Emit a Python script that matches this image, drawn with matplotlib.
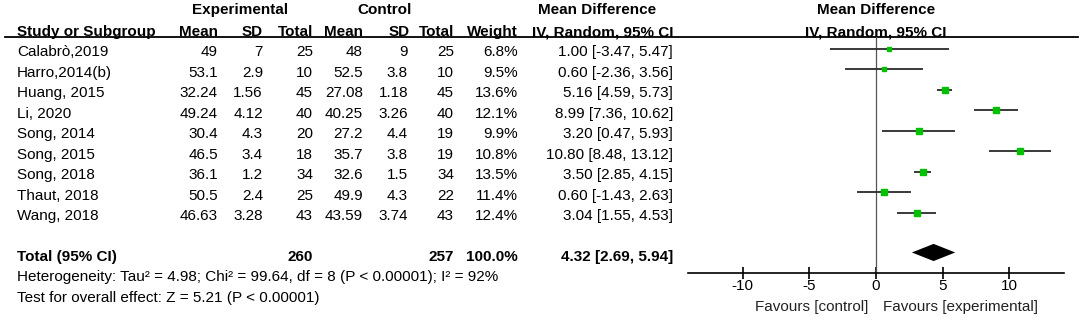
import matplotlib
matplotlib.use("Agg")
import matplotlib.pyplot as plt

plt.rcParams['font.family'] = ['Liberation Sans', 'DejaVu Sans']
plt.rcParams['font.size'] = 11

# data
studies = ["Calabrò,2019", "Harro,2014(b)", "Huang, 2015", "Li, 2020", "Song, 2014",
           "Song, 2015", "Song, 2018", "Thaut, 2018", "Wang, 2018"]
exp_mean = ["49", "53.1", "32.24", "49.24", "30.4", "46.5", "36.1", "50.5", "46.63"]
exp_sd = ["7", "2.9", "1.56", "4.12", "4.3", "3.4", "1.2", "2.4", "3.28"]
exp_n = [25, 10, 45, 40, 20, 18, 34, 25, 43]
ctl_mean = ["48", "52.5", "27.08", "40.25", "27.2", "35.7", "32.6", "49.9", "43.59"]
ctl_sd = ["9", "3.8", "1.18", "3.26", "4.4", "3.8", "1.5", "4.3", "3.74"]
ctl_n = [25, 10, 45, 40, 19, 19, 34, 22, 43]
weight = [6.8, 9.5, 13.6, 12.1, 9.9, 10.8, 13.5, 11.4, 12.4]
md = [1.00, 0.60, 5.16, 8.99, 3.20, 10.80, 3.50, 0.60, 3.04]
lo = [-3.47, -2.36, 4.59, 7.36, 0.47, 8.48, 2.85, -1.43, 1.55]
hi = [5.47, 3.56, 5.73, 10.62, 5.93, 13.12, 4.15, 2.63, 4.53]

total_exp = 260
total_ctl = 257
total_md, total_lo, total_hi = 4.32, 2.69, 5.94
het_text = "Heterogeneity: Tau² = 4.98; Chi² = 99.64, df = 8 (P < 0.00001); I² = 92%"
test_text = "Test for overall effect: Z = 5.21 (P < 0.00001)"
ticks = [-10, -5, 0, 5, 10]

W, H = 1084, 320
fig = plt.figure(figsize=(W / 100, H / 100), dpi=100)

# rows: row r sits at pixel 49 + 20.45*r
y0, dy = 49.0, 20.45
ylim = ((H - y0) / dy, -y0 / dy)

tab = fig.add_axes([0, 0, 1, 1])
tab.set_xlim(0, W)
tab.set_ylim(*ylim)
tab.axis('off')

toff = 0.17
total_row = 10
bold = dict(fontweight='bold')

# headers
tab.text(240, -1.9, "Experimental", ha='center', va='center', **bold)
tab.text(385, -1.9, "Control", ha='center', va='center', **bold)
tab.text(597, -1.9, "Mean Difference", ha='center', va='center', **bold)
tab.text(876, -1.9, "Mean Difference", ha='center', va='center', **bold)
hdr = [(17, "Study or Subgroup", 'left'), (218, "Mean", 'right'), (263, "SD", 'right'),
       (313, "Total", 'right'), (363, "Mean", 'right'), (410, "SD", 'right'),
       (454, "Total", 'right'), (518, "Weight", 'right'), (673, "IV, Random, 95% CI", 'right')]
for x, s, ha in hdr:
    tab.text(x, -0.82, s, ha=ha, va='center', **bold)
tab.text(876, -0.82, "IV, Random, 95% CI", ha='center', va='center', **bold)
tab.plot([5, 1078], [-0.58, -0.58], color='black', lw=1.3)

for i, name in enumerate(studies):
    y = i + toff
    tab.text(17, y, name, ha='left', va='center')
    tab.text(218, y, exp_mean[i], ha='right', va='center')
    tab.text(263, y, exp_sd[i], ha='right', va='center')
    tab.text(313, y, str(exp_n[i]), ha='right', va='center')
    tab.text(363, y, ctl_mean[i], ha='right', va='center')
    tab.text(408, y, ctl_sd[i], ha='right', va='center')
    tab.text(454, y, str(ctl_n[i]), ha='right', va='center')
    tab.text(518, y, f"{weight[i]:.1f}%", ha='right', va='center')
    tab.text(673, y, f"{md[i]:.2f} [{lo[i]:.2f}, {hi[i]:.2f}]", ha='right', va='center')

y = total_row + toff
tab.text(17, y, "Total (95% CI)", ha='left', va='center', **bold)
tab.text(313, y, str(total_exp), ha='right', va='center', **bold)
tab.text(454, y, str(total_ctl), ha='right', va='center', **bold)
tab.text(518, y, f"{sum(weight):.1f}%", ha='right', va='center', **bold)
tab.text(673, y, f"{total_md:.2f} [{total_lo:.2f}, {total_hi:.2f}]", ha='right', va='center', **bold)
tab.text(17, 11.15, het_text, ha='left', va='center')
tab.text(17, 12.17, test_text, ha='left', va='center')

# forest panel
ax = fig.add_axes([688 / W, 0, (1064 - 688) / W, 1])
ax.set_xlim(-14.1, 14.1)
ax.set_ylim(*ylim)
ax.patch.set_visible(False)
for s in ['top', 'left', 'right']:
    ax.spines[s].set_visible(False)
axis_row = 10.93
ax.spines['bottom'].set_position(('data', axis_row))
ax.spines['bottom'].set_linewidth(1.2)
ax.set_yticks([])
ax.set_xticks(ticks)
ax.set_xticklabels([str(t) for t in ticks])
ax.tick_params(axis='x', direction='inout', length=8, width=1.2, pad=1, labelsize=11)

ax.plot([0, 0], [-0.58, axis_row], color='#555555', lw=0.9)

for i in range(len(studies)):
    ax.plot([lo[i], hi[i]], [i, i], color='#2a2a2a', lw=1.3, solid_capstyle='butt')
    side = 1.6 * weight[i] ** 0.5
    ax.plot(md[i], i, marker='s', ms=side * 0.72, color='#00c000', mec='#00c000')

ax.fill([total_lo, total_md, total_hi, total_md],
        [total_row - 0.05, total_row - 0.47, total_row - 0.05, total_row + 0.37],
        color='black', lw=0)

ax.text(-0.6, 12.6, "Favours [control]", ha='right', va='center', color='#222222')
ax.text(0.55, 12.6, "Favours [experimental]", ha='left', va='center', color='#222222')

fig.savefig('out.png', dpi=100)
